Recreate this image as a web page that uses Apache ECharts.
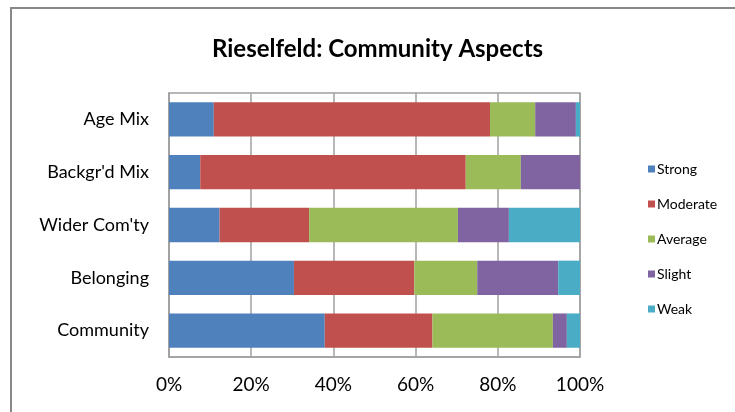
<!DOCTYPE html>
<html>
<head>
<meta charset="utf-8">
<script src="https://cdn.jsdelivr.net/npm/echarts@6/dist/echarts.min.js"></script>
<style>
  html, body { margin: 0; padding: 0; background: #fff; }
  #aspects { width: 735px; height: 412px; }
</style>
</head>
<body>
<div id="aspects"></div>
<script>
// categories bottom -> top (category axis draws first item at the bottom)
var categories = ["Community", "Belonging", "Wider Com'ty", "Backgr'd Mix", "Age Mix"];
var strong   = [37.9, 30.4, 12.3, 7.6, 10.9];
var moderate = [26.2, 29.3, 21.8, 64.6, 67.2];
var average  = [29.3, 15.3, 36.2, 13.4, 11.0];
var slight   = [3.4, 19.7, 12.4, 14.4, 9.9];
var weak     = [3.2, 5.3, 17.3, 0, 1.0];
var seriesNames = ["Strong", "Moderate", "Average", "Slight", "Weak"];
var xTicks = [0, 20, 40, 60, 80, 100];

var font = "Lato, 'Open Sans', sans-serif";
var gridGray = "#a0a0a0";

function bar(name, data) {
  return {
    name: name,
    type: "bar",
    stack: "all",
    barCategoryGap: "35%",
    data: data
  };
}

var option = {
  color: ["#4F81BD", "#C0504D", "#9BBB59", "#8064A2", "#4BACC6"],
  animation: false,
  title: {
    text: "Rieselfeld: Community Aspects",
    left: 207,
    top: 32,
    textStyle: { fontFamily: font, fontSize: 24, fontWeight: "bold", color: "#000" }
  },
  // outer chart frame (only top/left visible in the crop)
  graphic: [{
    type: "rect",
    shape: { x: 11, y: 8, width: 900, height: 600 },
    style: { fill: null, stroke: "#888", lineWidth: 2 },
    silent: true
  }],
  legend: {
    orient: "vertical",
    left: 643,
    top: 157,
    itemWidth: 7,
    itemHeight: 7,
    itemGap: 21,
    icon: "rect",
    data: seriesNames,
    textStyle: { fontFamily: font, fontSize: 14, color: "#000", padding: [0, 0, 0, -3] }
  },
  grid: {
    left: 169,
    right: 155,
    top: 93,
    bottom: 55,
    show: true,
    borderColor: gridGray,
    borderWidth: 1.5
  },
  xAxis: {
    type: "value",
    min: 0,
    max: 100,
    interval: 20,
    axisLine: { show: true, lineStyle: { color: gridGray, width: 1.5 } },
    axisTick: { show: false },
    splitLine: { lineStyle: { color: gridGray, width: 1.5 } },
    axisLabel: {
      margin: 18,
      fontFamily: font,
      fontSize: 19,
      color: "#000",
      formatter: function (v) { return xTicks.indexOf(v) >= 0 ? v + "%" : ""; }
    }
  },
  yAxis: {
    type: "category",
    data: categories,
    axisLine: { show: true, lineStyle: { color: gridGray, width: 1.5 } },
    axisTick: { show: false },
    axisLabel: { margin: 20, fontFamily: font, fontSize: 18, color: "#000" }
  },
  series: [
    bar("Strong", strong),
    bar("Moderate", moderate),
    bar("Average", average),
    bar("Slight", slight),
    bar("Weak", weak)
  ]
};

var chart = echarts.init(document.getElementById("aspects"));
chart.setOption(option);
</script>
</body>
</html>
